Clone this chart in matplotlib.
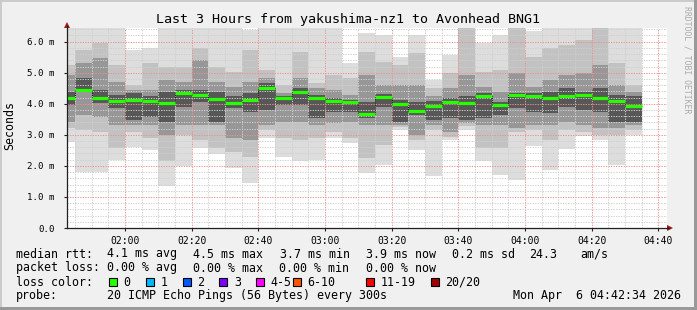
import matplotlib

matplotlib.use("Agg")
import matplotlib.dates as mdates
import matplotlib.pyplot as plt
import numpy as np
import pandas as pd
from matplotlib.lines import Line2D
from matplotlib.patches import Polygon, Rectangle
from matplotlib.ticker import FuncFormatter, MultipleLocator

W, H = 697, 310
MONO = "DejaVu Sans Mono"

# 5-minute smokeping rounds, start times (the first one is clipped by the window)
bar_start = pd.date_range("2026-04-06 01:40", periods=35, freq="5min")
window = (pd.Timestamp("2026-04-06 01:42:34"), pd.Timestamp("2026-04-06 04:42:34"))

# ping distribution per round (ms): outer smoke -> inner smoke, plus median
lo1 = [2.76, 1.81, 1.79, 2.19, 2.62, 2.51, 1.36, 2.00, 2.58, 2.38, 1.92, 1.46,
       2.90, 2.30, 2.15, 2.18, 2.91, 2.73, 1.76, 2.03, 3.16, 2.51, 1.69, 2.83,
       3.15, 2.17, 1.72, 1.56, 2.63, 1.86, 2.56, 2.95, 2.83, 2.03, 3.01]
lo2 = [3.21, 3.16, 3.10, 2.57, 3.10, 2.89, 2.17, 3.00, 2.85, 2.57, 2.46, 2.30,
       3.16, 2.89, 2.83, 2.89, 3.10, 2.89, 2.25, 2.67, 3.26, 2.83, 3.16, 2.94,
       3.30, 2.57, 2.57, 3.10, 3.16, 2.83, 3.16, 3.10, 3.00, 3.00, 3.16]
lo3 = [3.42, 3.64, 3.58, 3.32, 3.32, 3.32, 3.00, 3.32, 3.32, 3.32, 2.89, 2.83,
       3.32, 3.42, 3.42, 3.32, 3.37, 3.42, 3.32, 3.32, 3.32, 3.00, 3.32, 3.10,
       3.37, 3.32, 3.32, 3.21, 3.32, 3.32, 3.42, 3.32, 3.21, 3.21, 3.32]
lo4 = [3.96, 4.38, 4.02, 3.85, 3.48, 3.58, 3.42, 3.90, 4.07, 3.42, 3.85, 3.74,
       3.80, 3.96, 3.96, 3.53, 3.74, 3.74, 3.53, 3.91, 3.42, 3.64, 3.48, 3.53,
       3.48, 3.53, 3.64, 3.85, 3.74, 3.69, 3.91, 3.80, 3.74, 3.42, 3.42]
median = [4.20, 4.45, 4.20, 4.09, 4.13, 4.09, 4.03, 4.35, 4.28, 4.15, 4.03, 4.13,
          4.52, 4.20, 4.38, 4.19, 4.09, 4.06, 3.68, 4.23, 3.99, 3.78, 3.94, 4.07,
          4.03, 4.26, 3.96, 4.28, 4.26, 4.20, 4.26, 4.29, 4.20, 4.10, 3.94]
hi4 = [4.39, 4.82, 4.45, 4.28, 4.34, 4.24, 4.39, 4.45, 4.45, 4.39, 4.24, 4.34,
       4.66, 4.26, 4.50, 4.28, 4.20, 4.12, 4.07, 4.31, 4.12, 4.07, 4.10, 4.18,
       4.24, 4.34, 4.07, 4.34, 4.34, 4.39, 4.50, 4.39, 4.50, 4.28, 4.26]
hi3 = [4.93, 5.30, 5.47, 4.71, 4.45, 4.45, 4.77, 4.71, 5.41, 4.71, 4.55, 4.71,
       4.82, 4.34, 4.82, 4.50, 4.45, 4.28, 4.93, 4.61, 4.61, 4.61, 4.24, 4.50,
       4.93, 4.55, 4.39, 4.98, 4.55, 4.77, 4.93, 4.98, 5.25, 4.61, 4.39]
hi2 = [5.25, 5.73, 5.95, 5.25, 4.61, 5.30, 5.20, 5.20, 5.79, 5.20, 5.04, 5.73,
       5.09, 4.61, 5.68, 4.66, 4.93, 4.82, 5.68, 5.36, 5.25, 5.62, 4.50, 4.98,
       6.60, 5.04, 5.09, 6.60, 5.52, 5.79, 5.89, 6.05, 6.60, 5.30, 4.61]
hi1 = [6.60, 6.60, 6.60, 6.60, 5.73, 5.79, 6.60, 6.60, 6.60, 6.60, 6.60, 6.38,
       6.60, 6.60, 6.60, 6.60, 6.60, 5.30, 6.27, 6.20, 5.52, 6.20, 4.77, 5.57,
       6.60, 5.95, 6.20, 6.60, 6.35, 6.60, 6.60, 6.60, 6.60, 6.60, 6.50]

smoke_bands = [(lo1, hi1, "#dddddd"), (lo2, hi2, "#c2c2c2"),
               (lo3, hi3, "#979797"), (lo4, hi4, "#575757")]

stats_rtt = ["4.1 ms avg", "4.5 ms max", "3.7 ms min", "3.9 ms now", "0.2 ms sd", "24.3", "am/s"]
stats_rtt_x = [107.3, 193.3, 280, 365.7, 451.7, 529, 580]
stats_loss = ["0.00 % avg", "0.00 % max", "0.00 % min", "0.00 % now"]
stats_loss_x = [107.3, 193.3, 279.3, 365.7]
loss_labels = ["0", "1", "2", "3", "4-5", "6-10", "11-19", "20/20"]
loss_colors = ["#26ff00", "#00b8ff", "#0059ff", "#7e00ff", "#ff00ff", "#ff5500", "#ff0000", "#a10000"]
loss_box_x = [109, 146, 182.7, 219.3, 256, 292.7, 365.7, 430.7]


def fpos(x, y):
    return x / W, 1 - y / H


fig = plt.figure(figsize=(W / 100, H / 100), dpi=100, facecolor="#f0f0f0")
ax = fig.add_axes([67 / W, (H - 228) / H, 600 / W, 200 / H])
ax.set_facecolor("white")

x = mdates.date2num(bar_start)
width = 5 / 1440
for lo, hi, color in smoke_bands:
    lo, hi = np.asarray(lo), np.asarray(hi)
    ax.bar(x, hi - lo, bottom=lo, width=width, align="edge", color=color, linewidth=0, zorder=1)

ax.step(np.append(x, x[-1] + width), np.append(median, median[-1]), where="post",
        color="black", lw=0.7, ls=(0, (1, 1)), zorder=3)
ax.hlines(median, x, x + width, color=loss_colors[0], lw=2.3, zorder=4)

ax.set_xlim(mdates.date2num(window[0]), mdates.date2num(window[1]))
ax.set_ylim(0, 200 / 31.05)
ax.xaxis.set_major_locator(mdates.MinuteLocator(byminute=[0, 20, 40]))
ax.xaxis.set_minor_locator(mdates.MinuteLocator(byminute=range(0, 60, 5)))
ax.xaxis.set_major_formatter(mdates.DateFormatter("%H:%M"))
ax.yaxis.set_major_locator(MultipleLocator(1.0))
ax.yaxis.set_minor_locator(MultipleLocator(0.2))
ax.yaxis.set_major_formatter(FuncFormatter(lambda v, _: "0.0" if v == 0 else f"{v:.1f} m"))
ax.set_axisbelow(False)
ax.grid(which="minor", color="#cfcfcf", lw=0.7, ls=(0, (1.3, 1.3)))
ax.grid(which="major", color="#f09090", lw=0.7, ls=(0, (1.3, 1.3)))
ax.tick_params(which="major", length=2, width=0.8, color="#202020")
ax.tick_params(which="minor", length=0)
ax.tick_params(axis="y", pad=7, labelsize=6.6)
ax.tick_params(axis="x", pad=4, labelsize=7.0)
for label in ax.get_xticklabels() + ax.get_yticklabels():
    label.set_family(MONO)
for side in ax.spines.values():
    side.set_visible(False)

# axis lines with arrows
fig.add_artist(Line2D([67 / W, 669 / W], [1 - 228 / H] * 2, color="#202020", lw=0.9))
fig.add_artist(Line2D([67 / W] * 2, [1 - 228 / H, 1 - 26 / H], color="#202020", lw=0.9))
fig.add_artist(Polygon([fpos(667, 225), fpos(667, 231), fpos(673, 228)], closed=True,
                       transform=fig.transFigure, color="#a01818", lw=0))
fig.add_artist(Polygon([fpos(64, 28), fpos(70, 28), fpos(67, 22)], closed=True,
                       transform=fig.transFigure, color="#a01818", lw=0))

# frame shading
fig.add_artist(Rectangle((0, 0), 1, 3 / H, transform=fig.transFigure, color="#999999", lw=0))
fig.add_artist(Rectangle((1 - 3 / W, 0), 3 / W, 1, transform=fig.transFigure, color="#999999", lw=0))
fig.add_artist(Rectangle((0, 1 - 2 / H), 1 - 3 / W, 2 / H, transform=fig.transFigure, color="#cbcbcb", lw=0))
fig.add_artist(Rectangle((0, 3 / H), 2 / W, 1 - 5 / H, transform=fig.transFigure, color="#cbcbcb", lw=0))

fig.text(*fpos(347.5, 19.5), "Last 3 Hours from yakushima-nz1 to Avonhead BNG1",
         ha="center", va="center", fontsize=9.6, family=MONO)
fig.text(*fpos(10, 126), "Seconds", rotation=90, ha="center", va="center", fontsize=8.4, family=MONO)
fig.text(*fpos(687, 60), "RRDTOOL / TOBI OETIKER", rotation=270, ha="center", va="center",
         fontsize=5.9, family=MONO, color="#aaaaaa")

rows_y = [254, 268, 282.3, 296]
txt = dict(ha="left", va="center", fontsize=8.4, family=MONO)
fig.text(*fpos(16, rows_y[0]), "median rtt:", **txt)
for s, sx in zip(stats_rtt, stats_rtt_x):
    fig.text(*fpos(sx, rows_y[0]), s, **txt)
fig.text(*fpos(16, rows_y[1]), "packet loss:", **txt)
for s, sx in zip(stats_loss, stats_loss_x):
    fig.text(*fpos(sx, rows_y[1]), s, **txt)
fig.text(*fpos(16, rows_y[2]), "loss color:", **txt)
for label, color, bx in zip(loss_labels, loss_colors, loss_box_x):
    fig.add_artist(Rectangle(fpos(bx, rows_y[2] + 4), 8 / W, 8 / H, transform=fig.transFigure,
                             facecolor=color, edgecolor="black", lw=0.8))
    fig.text(*fpos(bx + 14.5, rows_y[2]), label, **txt)
fig.text(*fpos(16, rows_y[3]), "probe:", **txt)
fig.text(*fpos(107.3, rows_y[3]), "20 ICMP Echo Pings (56 Bytes) every 300s", **txt)
fig.text(*fpos(513, rows_y[3]), "Mon Apr  6 04:42:34 2026", **txt)

fig.savefig("out.png", dpi=100, facecolor=fig.get_facecolor())
